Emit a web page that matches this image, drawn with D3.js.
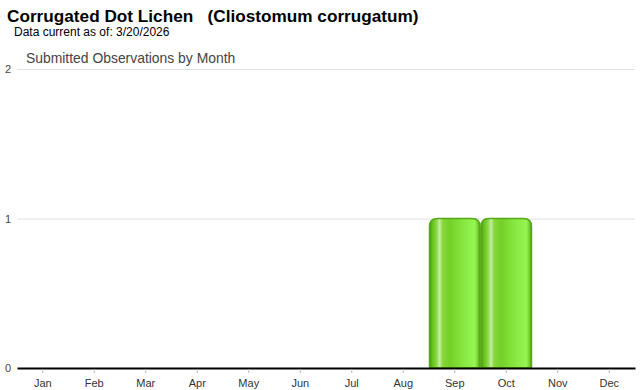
<!DOCTYPE html>
<html><head><meta charset="utf-8">
<script src="https://cdn.jsdelivr.net/npm/d3@7/dist/d3.min.js"></script>
<style>body{margin:0;background:#fff}svg{display:block}</style>
</head><body>
<svg id="c" width="640" height="390"></svg>
<script>
const titleText = "Corrugated Dot Lichen   (Cliostomum corrugatum)";
const subtitleText = "Data current as of: 3/20/2026";
const chartTitle = "Submitted Observations by Month";
const months = ["Jan","Feb","Mar","Apr","May","Jun","Jul","Aug","Sep","Oct","Nov","Dec"];
const counts = [0,0,0,0,0,0,0,0,1,1,0,0];
const yTicks = [0,1,2];

(function(){
const svg = d3.select("#c");
const mLeft = 17, mRight = 635, mTop = 69, mBottom = 368;
const x = d3.scaleBand().domain(months).range([mLeft, mRight]).paddingInner(0.02).paddingOuter(0.01);
const y = d3.scaleLinear().domain([0, 2]).range([mBottom, mTop]);

const defs = svg.append("defs");
const g = defs.append("linearGradient").attr("id","barg").attr("x1","0").attr("x2","1").attr("y1","0").attr("y2","0");
[[0,"#4f9c10"],[0.06,"#66c21c"],[0.14,"#8ad84a"],[0.2,"#c6eea0"],[0.26,"#86d83c"],[0.4,"#74d026"],[0.7,"#8aea44"],[0.9,"#96f552"],[0.96,"#74cc30"],[1,"#4f9c10"]]
  .forEach(([o,c]) => g.append("stop").attr("offset",o).attr("stop-color",c));

svg.append("text").attr("x",7).attr("y",22).attr("font-family","Liberation Sans, Arial, sans-serif")
  .attr("font-weight","bold").attr("font-size",17.2).attr("fill","#000").style("white-space","pre").text(titleText);
svg.append("text").attr("x",14).attr("y",36).attr("font-family","Liberation Sans, Arial, sans-serif")
  .attr("font-size",12).attr("fill","#000").text(subtitleText);
svg.append("text").attr("x",26).attr("y",63).attr("font-family","Liberation Sans, Arial, sans-serif")
  .attr("font-size",13.9).attr("fill","#444").text(chartTitle);

svg.append("g").selectAll("line").data(yTicks.filter(t => t > 0)).join("line")
  .attr("x1",mLeft).attr("x2",mRight).attr("y1",d=>y(d)+0.5).attr("y2",d=>y(d)+0.5)
  .attr("stroke","#e0e0e0").attr("stroke-width",1);
svg.append("g").selectAll("text").data(yTicks).join("text")
  .attr("x",8).attr("y",d=>y(d)+4).attr("text-anchor","middle")
  .attr("font-family","Liberation Sans, Arial, sans-serif").attr("font-size",11).attr("fill","#444").text(d=>d);

const r = 8;
svg.append("g").selectAll("path").data(months.map((m,i)=>({m, v:counts[i]})).filter(d=>d.v>0)).join("path")
  .attr("d", d => {
    const x0 = x(d.m), w = x.bandwidth(), y0 = y(d.v), yb = y(0);
    return `M${x0},${yb} L${x0},${y0+r} Q${x0},${y0} ${x0+r},${y0} L${x0+w-r},${y0} Q${x0+w},${y0} ${x0+w},${y0+r} L${x0+w},${yb} Z`;
  })
  .attr("fill","url(#barg)").attr("stroke","#56a814").attr("stroke-width",1.5);

const xa = svg.append("g").attr("transform",`translate(0,${mBottom})`)
  .call(d3.axisBottom(x).tickSize(4).tickSizeOuter(0));
xa.select(".domain").attr("stroke","#000").attr("stroke-width",2);
xa.selectAll(".tick line").attr("stroke","#bbb").attr("transform","translate(0,1)");
xa.selectAll(".tick text").attr("font-family","Liberation Sans, Arial, sans-serif").attr("font-size",11).attr("fill","#333").attr("dy","1.1em");
})();
</script>
</body></html>
